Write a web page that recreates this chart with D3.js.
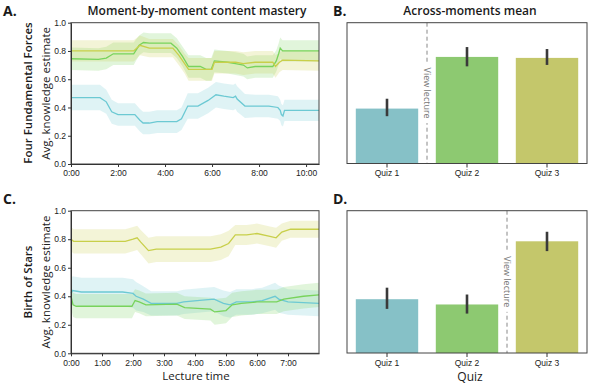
<!DOCTYPE html>
<html>
<head>
<meta charset="utf-8">
<script src="https://cdn.jsdelivr.net/npm/d3@7"></script>
<style>
  body { margin: 0; background: #fff; }
  svg { font-family: 'Open Sans', sans-serif; }
</style>
</head>
<body>
<div id="canvas"></div>
<script>
/*
 * Data: [seconds, mean, ci half-width]
 */
const quizzes = ['Quiz 1', 'Quiz 2', 'Quiz 3'];

const forcesQuiz1 = [[0,.47,.09],[74,.47,.09],[90,.44,.085],[104,.37,.085],[120,.35,.08],[163,.35,.08],[176,.31,.08],[184,.29,.08],[200,.29,.08],[220,.30,.08],[270,.30,.08],[282,.32,.08],[298,.41,.09],[324,.41,.09],[350,.45,.09],[370,.49,.09],[390,.48,.09],[414,.47,.09],[420,.48,.09],[424,.46,.09],[444,.41,.085],[470,.41,.08],[505,.41,.08],[528,.40,.08],[534,.38,.075],[537,.35,.075],[541,.34,.075],[545,.38,.075],[633,.38,.075]];
const forcesQuiz2 = [[0,.745,.08],[70,.74,.08],[90,.75,.08],[108,.78,.08],[160,.78,.08],[174,.84,.07],[185,.86,.07],[200,.855,.07],[255,.855,.07],[270,.82,.07],[285,.76,.07],[300,.69,.08],[330,.69,.08],[345,.67,.08],[358,.67,.08],[366,.73,.08],[400,.72,.08],[420,.71,.08],[440,.70,.08],[450,.68,.08],[470,.69,.08],[515,.69,.08],[524,.73,.075],[530,.78,.075],[534,.82,.075],[540,.80,.075],[633,.80,.075]];
const forcesQuiz3 = [[0,.80,.075],[160,.80,.075],[176,.84,.07],[200,.82,.065],[260,.82,.065],[275,.77,.07],[290,.71,.07],[300,.67,.08],[360,.67,.08],[366,.72,.08],[420,.72,.08],[440,.71,.08],[470,.72,.08],[515,.72,.08],[522,.69,.08],[532,.72,.07],[540,.735,.07],[633,.73,.07]];

const starsQuiz1 = [[0,.42,.1],[3,.44,.1],[20,.43,.1],[100,.43,.1],[120,.42,.1],[126,.40,.1],[140,.38,.09],[155,.35,.085],[205,.35,.085],[218,.36,.085],[260,.375,.085],[277,.38,.085],[295,.35,.09],[308,.34,.09],[320,.36,.09],[350,.36,.09],[370,.37,.09],[395,.40,.095],[402,.38,.095],[420,.36,.09],[480,.35,.09]];
const starsQuiz2 = [[0,.40,.085],[4,.34,.085],[10,.33,.085],[118,.33,.085],[124,.37,.08],[132,.36,.08],[145,.34,.08],[205,.345,.08],[220,.32,.08],[270,.31,.08],[278,.29,.09],[300,.30,.09],[312,.34,.085],[330,.35,.085],[360,.36,.085],[398,.36,.085],[412,.38,.085],[450,.40,.085],[480,.41,.085]];
const starsQuiz3 = [[0,.80,.085],[5,.785,.085],[105,.785,.085],[120,.80,.085],[128,.81,.085],[135,.78,.085],[150,.72,.09],[165,.73,.09],[270,.73,.09],[290,.745,.09],[305,.77,.09],[318,.83,.07],[340,.83,.07],[360,.84,.07],[385,.82,.07],[397,.81,.07],[408,.85,.06],[425,.87,.06],[480,.87,.06]];

const forcesMean = [0.39, 0.757, 0.75];
const forcesLow = [0.336, 0.69, 0.70];
const forcesHigh = [0.46, 0.827, 0.813];
const starsMean = [0.378, 0.341, 0.785];
const starsLow = [0.31, 0.277, 0.716];
const starsHigh = [0.459, 0.411, 0.852];

const forcesTicks = [0, 120, 240, 360, 480, 600];
const starsTicks = [0, 60, 120, 180, 240, 300, 360, 420];
const yTicks = [0, 0.2, 0.4, 0.6, 0.8, 1.0];

const lineColor = ['#6cc9d3', '#78d35c', '#c8cf4a'];
const barColor = ['#86c1c7', '#8dc971', '#c4c76b'];

const svg = d3.select('#canvas').append('svg')
  .attr('width', 596)
  .attr('height', 387);

const fmtTime = (s) => `${Math.floor(s / 60)}:${String(s % 60).padStart(2, '0')}`;

function frame(g, w, h) {
  g.append('rect')
    .attr('width', w).attr('height', h)
    .attr('fill', 'none')
    .attr('stroke', '#444')
    .attr('stroke-width', 1);
}

/*
 * Line panels (A, C)
 */
function linePanel(box, maxT, ticks, series) {
  const g = svg.append('g').attr('transform', `translate(${box.left},${box.top})`);
  const w = box.right - box.left, h = box.bottom - box.top;
  const x = d3.scaleLinear().domain([0, maxT]).range([0, w]);
  const y = d3.scaleLinear().domain([0, 1]).range([h, 0]);

  series.forEach((s, i) => {
    g.append('path')
      .datum(s)
      .attr('fill', lineColor[i])
      .attr('fill-opacity', 0.22)
      .attr('d', d3.area()
        .x(d => x(d[0]))
        .y0(d => y(d[1] - d[2]))
        .y1(d => y(d[1] + d[2])));
  });
  series.forEach((s, i) => {
    g.append('path')
      .datum(s)
      .attr('fill', 'none')
      .attr('stroke', lineColor[i])
      .attr('stroke-width', 1.3)
      .attr('d', d3.line().x(d => x(d[0])).y(d => y(d[1])));
  });

  frame(g, w, h);

  const xa = g.append('g').attr('transform', `translate(0,${h})`)
    .call(d3.axisBottom(x).tickValues(ticks).tickFormat(fmtTime).tickSize(3).tickPadding(2).tickSizeOuter(0));
  const ya = g.append('g')
    .call(d3.axisLeft(y).tickValues(yTicks).tickFormat(d3.format('.1f')).tickSize(3).tickPadding(2).tickSizeOuter(0));
  [xa, ya].forEach(a => {
    a.select('.domain').attr('stroke', '#333');
    a.selectAll('line').attr('stroke', '#333');
    a.selectAll('text').attr('fill', '#222').style('font-size', '8.5px');
  });
  xa.selectAll('text').attr('dy', '0.85em');

  g.append('text')
    .attr('transform', `translate(-21,${h / 2}) rotate(-90)`)
    .attr('text-anchor', 'middle')
    .attr('fill', '#222')
    .style('font-size', '11.5px')
    .text('Avg. knowledge estimate');
  return g;
}

/*
 * Bar panels (B, D)
 */
function barPanel(box, mean, low, high, lectureAfter) {
  const g = svg.append('g').attr('transform', `translate(${box.left},${box.top})`);
  const w = box.right - box.left, h = box.bottom - box.top;
  const x = d3.scaleBand().domain(quizzes).range([0, w]).paddingInner(0.22).paddingOuter(0.11);
  const y = d3.scaleLinear().domain([0, 1]).range([h, 0]);

  g.selectAll('rect.bar')
    .data(quizzes)
    .enter().append('rect')
    .attr('class', 'bar')
    .attr('x', d => x(d))
    .attr('width', x.bandwidth())
    .attr('y', (d, i) => y(mean[i]))
    .attr('height', (d, i) => h - y(mean[i]))
    .attr('fill', (d, i) => barColor[i]);

  g.selectAll('line.err')
    .data(quizzes)
    .enter().append('line')
    .attr('class', 'err')
    .attr('x1', d => x(d) + x.bandwidth() / 2)
    .attr('x2', d => x(d) + x.bandwidth() / 2)
    .attr('y1', (d, i) => y(low[i]))
    .attr('y2', (d, i) => y(high[i]))
    .attr('stroke', '#3a3a3a')
    .attr('stroke-width', 2.6);

  // lecture marker between two bars
  const a = quizzes[lectureAfter], b = quizzes[lectureAfter + 1];
  const lx = (x(a) + x.bandwidth() + x(b)) / 2;
  g.append('line')
    .attr('x1', lx).attr('x2', lx)
    .attr('y1', 0).attr('y2', h)
    .attr('stroke', '#888')
    .attr('stroke-width', 1)
    .attr('stroke-dasharray', '4,3');
  const lbl = g.append('g').attr('transform', `translate(${lx},${h / 2}) rotate(90)`);
  lbl.append('rect')
    .attr('x', -30).attr('y', -6).attr('width', 60).attr('height', 12)
    .attr('fill', '#fff');
  lbl.append('text')
    .attr('text-anchor', 'middle')
    .attr('dy', '0.35em')
    .attr('fill', '#777')
    .style('font-size', '9px')
    .text('View lecture');

  frame(g, w, h);

  const xa = g.append('g').attr('transform', `translate(0,${h})`)
    .call(d3.axisBottom(x).tickSize(4).tickPadding(2).tickSizeOuter(0));
  xa.select('.domain').remove();
  xa.selectAll('line').attr('stroke', '#333');
  xa.selectAll('text').attr('fill', '#222').style('font-size', '8.5px').attr('dy', '0.8em');
  return g;
}

linePanel({ left: 71, right: 319, top: 22.7, bottom: 164 }, 633, forcesTicks,
  [forcesQuiz1, forcesQuiz2, forcesQuiz3]);
barPanel({ left: 347, right: 587, top: 22.7, bottom: 163.5 }, forcesMean, forcesLow, forcesHigh, 0);
linePanel({ left: 71, right: 319, top: 210.7, bottom: 353.3 }, 480, starsTicks,
  [starsQuiz1, starsQuiz2, starsQuiz3]);
barPanel({ left: 347, right: 587, top: 210.7, bottom: 353 }, starsMean, starsLow, starsHigh, 1);

/*
 * Titles, row labels, panel letters
 */
const txt = (x, y, s, size, weight, anchor, rot) => svg.append('text')
  .attr('transform', `translate(${x},${y})` + (rot ? ` rotate(${rot})` : ''))
  .attr('text-anchor', anchor)
  .attr('fill', '#1a1a1a')
  .style('font-size', size)
  .style('font-weight', weight)
  .text(s);

txt(197, 15, 'Moment-by-moment content mastery', '12px', 600, 'middle');
txt(470, 15, 'Across-moments mean', '12px', 600, 'middle');
txt(3, 16, 'A.', '14px', 700, 'start');
txt(333, 16, 'B.', '14px', 700, 'start');
txt(3, 204, 'C.', '14px', 700, 'start');
txt(333, 204, 'D.', '14px', 700, 'start');
txt(32, 93, 'Four Fundamental Forces', '11.5px', 600, 'middle', -90);
txt(32, 282, 'Birth of Stars', '11.5px', 600, 'middle', -90);
txt(196, 380, 'Lecture time', '11.5px', 400, 'middle');
txt(470, 381, 'Quiz', '12px', 400, 'middle');
</script>
</body>
</html>
